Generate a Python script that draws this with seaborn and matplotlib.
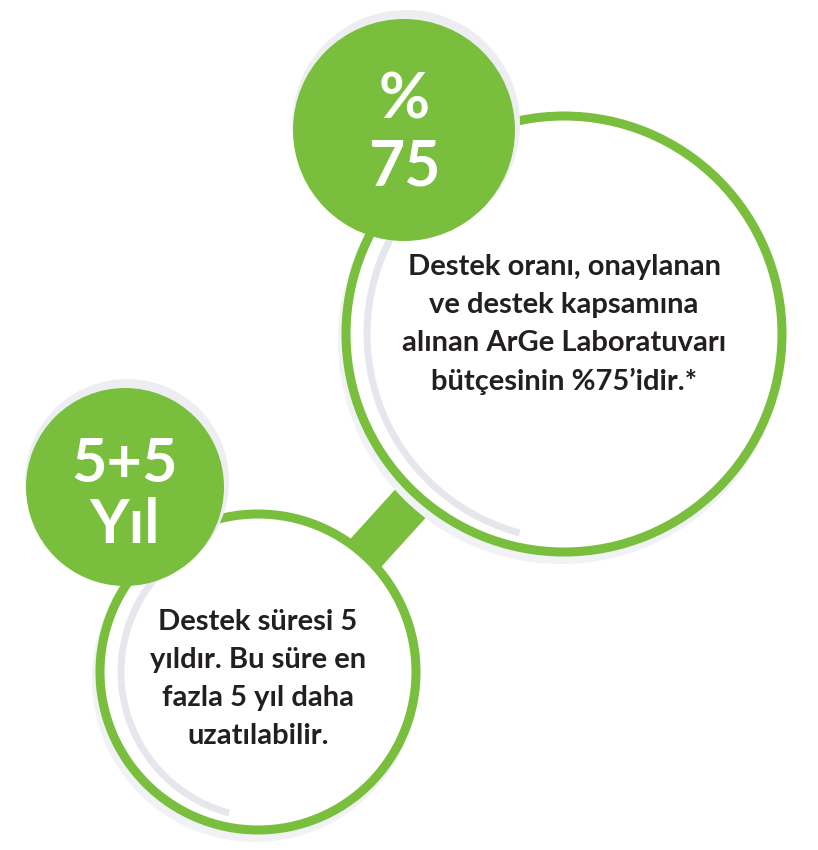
"""Two-bubble infographic: ArGe laboratory support rate and duration."""

import matplotlib.pyplot as plt
import seaborn as sns
from matplotlib.patches import Circle, Arc

# content
badge_lines = [["%", "75"], ["5+5", "Yıl"]]
body_lines = [
    ["Destek oranı, onaylanan", "ve destek kapsamına",
     "alınan ArGe Laboratuvarı", "bütçesinin %75’idir.*"],
    ["Destek süresi 5", "yıldır. Bu süre en",
     "fazla 5 yıl daha", "uzatılabilir."],
]

# layout in pixel space (y grows downward)
ring_centers = [(564, 334), (258, 672)]
ring_radii = [218, 158]
badge_centers = [(404, 130), (125, 487)]
badge_radii = [111, 99]
badge_baselines = [[118, 185], [482, 543]]
badge_sizes = [45, 44]
body_top = [267, 622]
body_step = 38
body_sizes = [21, 21]

GREEN = "#79bf3d"
TEXT = "#231f20"
SHADOW = "#dadde5"

sns.set_theme(style="white")
plt.rcParams["font.family"] = ["Lato", "DejaVu Sans"]

fig = plt.figure(figsize=(8.18, 8.5), dpi=100)
ax = fig.add_axes([0, 0, 1, 1])
ax.set_xlim(0, 818)
ax.set_ylim(850, 0)
ax.set_aspect("equal")
ax.axis("off")

# connector between the rings
(x1, y1), (x2, y2) = ring_centers
ax.plot([x1, x2], [y1, y2], color=GREEN, lw=30, solid_capstyle="butt", zorder=1)

for (cx, cy), r in zip(ring_centers, ring_radii):
    # soft outer shadow
    ax.add_patch(Circle((cx - 3, cy + 7), r + 5, facecolor="#f1f2f5", edgecolor="none", zorder=1.5))
    ax.add_patch(Circle((cx, cy), r, facecolor="white", edgecolor=GREEN, lw=6.5, zorder=2))
    # inner shading on the left
    ax.add_patch(Arc((cx + 9, cy), 2 * r - 24, 2 * r - 24, theta1=105, theta2=245,
                     color=SHADOW, lw=5, alpha=0.7, zorder=2.1))

for (cx, cy), r in zip(badge_centers, badge_radii):
    ax.add_patch(Circle((cx + 2, cy - 6), r + 3, facecolor="#eceef2", edgecolor="none", zorder=2.5))
    ax.add_patch(Circle((cx, cy), r, facecolor=GREEN, edgecolor="none", zorder=3))

for (cx, _), lines, ys, size in zip(badge_centers, badge_lines, badge_baselines, badge_sizes):
    for line, y in zip(lines, ys):
        ax.text(cx, y, line, ha="center", va="baseline", color="white",
                fontsize=size, fontweight="bold", zorder=4)

for (cx, _), lines, top, size in zip(ring_centers, body_lines, body_top, body_sizes):
    for i, line in enumerate(lines):
        ax.text(cx, top + i * body_step, line, ha="center", va="center", color=TEXT,
                fontsize=size, fontweight="bold", zorder=4)

fig.savefig("out.png", dpi=100, facecolor="white")
